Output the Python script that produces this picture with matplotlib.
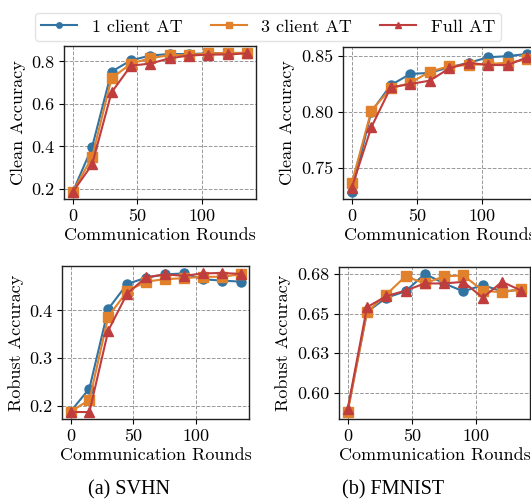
import matplotlib
matplotlib.use("Agg")
import matplotlib.pyplot as plt
from matplotlib import font_manager
from matplotlib.ticker import FormatStrFormatter


def pick_font(names):
    for n in names:
        try:
            font_manager.findfont(n, fallback_to_default=False)
            return n
        except ValueError:
            continue
    return "DejaVu Serif"


serif = pick_font(["cmr10", "CMU Serif", "Latin Modern Roman", "Liberation Serif"])
plt.rcParams["font.family"] = [serif, "DejaVu Serif"]
plt.rcParams["axes.formatter.use_mathtext"] = False
plt.rcParams["font.size"] = 13

# Communication rounds
rounds = [0, 15, 30, 45, 60, 75, 90, 105, 120, 135]

series_names = ["1 client AT", "3 client AT", "Full AT"]

# SVHN
svhn_clean_1 = [0.185, 0.397, 0.752, 0.805, 0.828, 0.835, 0.835, 0.838, 0.840, 0.840]
svhn_clean_3 = [0.185, 0.350, 0.720, 0.790, 0.815, 0.830, 0.830, 0.838, 0.840, 0.840]
svhn_clean_f = [0.185, 0.315, 0.654, 0.780, 0.790, 0.815, 0.828, 0.832, 0.833, 0.838]

svhn_rob_1 = [0.189, 0.237, 0.403, 0.455, 0.468, 0.475, 0.477, 0.465, 0.462, 0.460]
svhn_rob_3 = [0.189, 0.213, 0.387, 0.440, 0.460, 0.465, 0.467, 0.470, 0.470, 0.475]
svhn_rob_f = [0.188, 0.188, 0.358, 0.435, 0.469, 0.475, 0.472, 0.477, 0.478, 0.476]

# FMNIST
fmnist_clean_1 = [0.728, 0.800, 0.824, 0.834, 0.835, 0.840, 0.844, 0.849, 0.850, 0.852]
fmnist_clean_3 = [0.736, 0.801, 0.821, 0.826, 0.836, 0.841, 0.842, 0.843, 0.844, 0.847]
fmnist_clean_f = [0.732, 0.786, 0.822, 0.825, 0.828, 0.839, 0.844, 0.842, 0.842, 0.849]

fmnist_rob_1 = [0.589, 0.651, 0.660, 0.664, 0.675, 0.669, 0.664, 0.668, 0.664, 0.665]
fmnist_rob_3 = [0.588, 0.651, 0.662, 0.6735, 0.669, 0.6735, 0.674, 0.6645, 0.6634, 0.6655]
fmnist_rob_f = [0.590, 0.654, 0.661, 0.6645, 0.669, 0.669, 0.670, 0.660, 0.670, 0.6645]

fmnist_rob_ticks = [0.600, 0.625, 0.650, 0.675]
fmnist_rob_labels = ["0.60", "0.63", "0.65", "0.68"]

colors = ["#3274a1", "#e1812c", "#c03d3e"]
markers = ["o", "s", "^"]


def draw(ax, ys, ylabel):
    for y, name, c, m in zip(ys, series_names, colors, markers):
        ax.plot(rounds, y, color=c, marker=m, markersize=6.5, linewidth=1.5,
                label=name)
    ax.set_xlabel("Communication Rounds", labelpad=2.5)
    ax.set_ylabel(ylabel, labelpad=4)
    ax.set_xticks([0, 50, 100])
    ax.grid(True, linestyle="--", color="#999999", linewidth=0.7)
    ax.set_axisbelow(True)
    for s in ax.spines.values():
        s.set_color("#222222")
        s.set_linewidth(1.0)
    ax.tick_params(direction="out", length=3.5, width=0.8)


fig = plt.figure(figsize=(5.31, 5.04), dpi=100)
W, H = 531, 504


def box(x0, x1, y0, y1):
    return [x0 / W, 1 - y1 / H, (x1 - x0) / W, (y1 - y0) / H]


ax_tl = fig.add_axes(box(64, 256, 46, 199))
ax_tr = fig.add_axes(box(343, 536, 47, 199))
ax_bl = fig.add_axes(box(62, 249, 266, 419))
ax_br = fig.add_axes(box(339, 530, 267, 419))

draw(ax_tl, [svhn_clean_1, svhn_clean_3, svhn_clean_f], "Clean Accuracy")
ax_tl.set_yticks([0.2, 0.4, 0.6, 0.8])
ax_tl.yaxis.set_major_formatter(FormatStrFormatter("%.1f"))

draw(ax_tr, [fmnist_clean_1, fmnist_clean_3, fmnist_clean_f], "Clean Accuracy")
ax_tr.set_yticks([0.75, 0.80, 0.85])
ax_tr.yaxis.set_major_formatter(FormatStrFormatter("%.2f"))

draw(ax_bl, [svhn_rob_1, svhn_rob_3, svhn_rob_f], "Robust Accuracy")
ax_bl.set_yticks([0.2, 0.3, 0.4])
ax_bl.yaxis.set_major_formatter(FormatStrFormatter("%.1f"))

draw(ax_br, [fmnist_rob_1, fmnist_rob_3, fmnist_rob_f], "Robust Accuracy")
ax_br.set_yticks(fmnist_rob_ticks)
ax_br.set_yticklabels(fmnist_rob_labels)

handles, labels = ax_tl.get_legend_handles_labels()
fig.legend(handles, labels, loc="upper center", bbox_to_anchor=(0.505, 0.993),
           ncol=3, frameon=True, fancybox=True, edgecolor="#dddddd",
           markerscale=0.6, handlelength=2.0, handletextpad=0.8,
           columnspacing=1.55, borderpad=0.35)

fig.text(129 / W, 1 - 490 / H, "(a) SVHN", ha="center", va="center",
         family="Liberation Serif", fontsize=14.5)
fig.text(393 / W, 1 - 490 / H, "(b) FMNIST", ha="center", va="center",
         family="Liberation Serif", fontsize=14.5)

fig.savefig("out.png", dpi=100)
